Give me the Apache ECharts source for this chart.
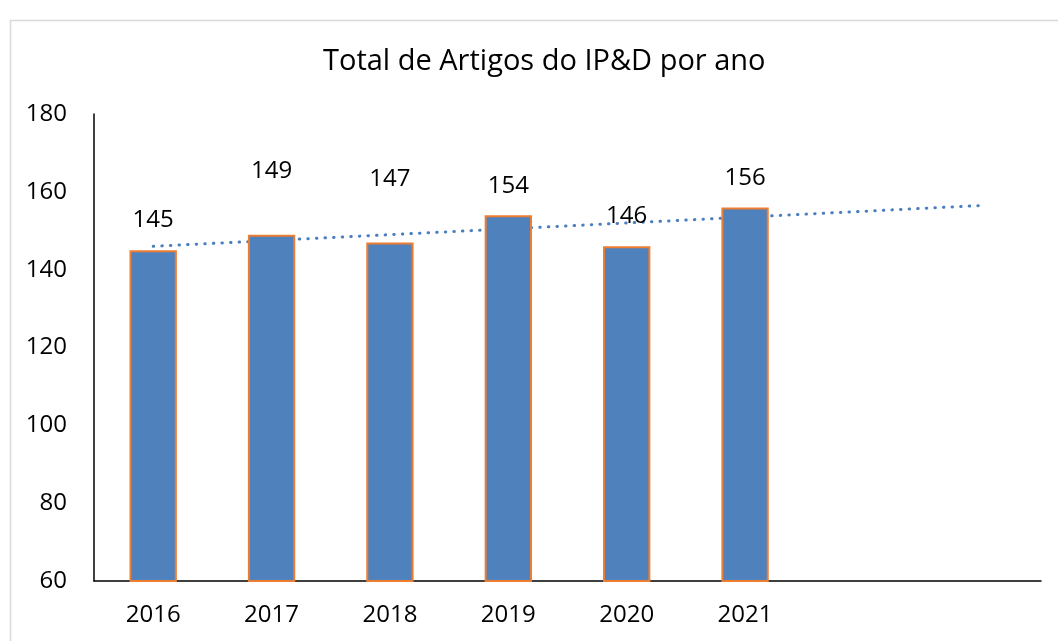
<!DOCTYPE html>
<html><head><meta charset="utf-8">
<script src="https://cdn.jsdelivr.net/npm/echarts@6/dist/echarts.min.js"></script>
<style>html,body{margin:0;padding:0;background:#fff}#c{width:1058px;height:641px}</style>
</head><body><div id="c"></div>
<script>
const categories = ['2016','2017','2018','2019','2020','2021','',''];
const articles = [145, 149, 147, 154, 146, 156];
const trendStart = 146.0;   // trendline value read at 2016
const trendEnd = 156.5;     // trendline value read at last (empty) slot
const yTicks = {min: 60, max: 180, step: 20};

const labelDistances = [18, 51, 51, 17, 18, 17];
const FONT = 'Open Sans';

const chart = echarts.init(document.getElementById('c'));
chart.setOption({
  animation: false,
  backgroundColor: '#fff',
  title: {
    text: 'Total de Artigos do IP&D por ano',
    left: 318, top: 42,
    textStyle: {fontFamily: FONT, fontSize: 29, fontWeight: 'normal', color: '#000'}
  },
  graphic: [{
    type: 'rect', left: 8, top: 18, silent: true,
    shape: {width: 1070, height: 650},
    style: {fill: 'none', stroke: '#d9d9d9', lineWidth: 1.5}
  }],
  grid: {left: 94, right: 17, top: 114, bottom: 60, containLabel: false},
  xAxis: {
    type: 'category', data: categories, boundaryGap: true,
    axisLine: {lineStyle: {color: '#000', width: 1.5}},
    axisTick: {show: false},
    axisLabel: {fontFamily: FONT, fontSize: 24, color: '#000', margin: 22}
  },
  yAxis: {
    type: 'value', min: yTicks.min, max: yTicks.max, interval: yTicks.step,
    axisLine: {show: true, lineStyle: {color: '#000', width: 1.5}},
    axisTick: {show: false},
    splitLine: {show: false},
    axisLabel: {fontFamily: FONT, fontSize: 24, color: '#000', margin: 27}
  },
  series: [
    {
      type: 'line',
      data: [[0, trendStart], [categories.length - 1, trendEnd]],
      symbol: 'none',
      lineStyle: {color: '#4a7ebf', width: 3, type: [0.5, 8.1], cap: 'round'},
      z: 1
    },
    {
      type: 'bar',
      barWidth: '40%',
      data: articles.map((v, i) => ({value: v, label: {distance: labelDistances[i]}})),
      itemStyle: {color: '#4F81BD', borderColor: '#ED7D31', borderWidth: 2},
      label: {show: true, position: 'top', fontFamily: FONT, fontSize: 24, color: '#000'},
      z: 2
    }
  ]
});
</script></body></html>
